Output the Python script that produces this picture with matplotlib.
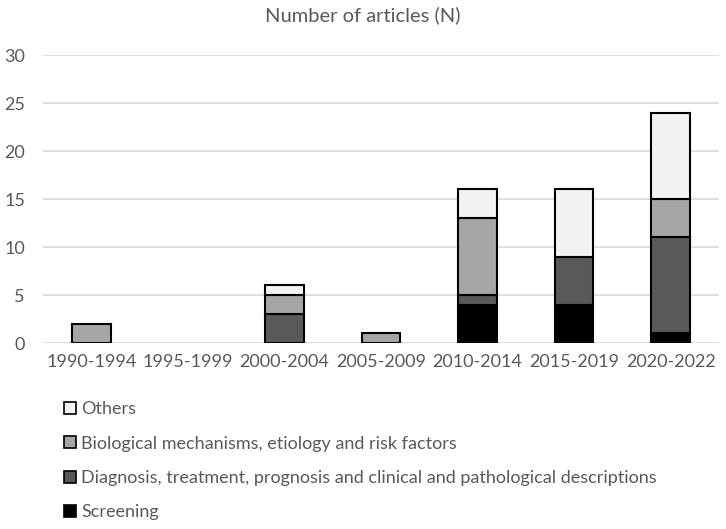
import matplotlib.pyplot as plt
import numpy as np
from matplotlib.patches import Patch

plt.rcParams['font.family'] = ['Lato', 'DejaVu Sans']

periods = ['1990-1994', '1995-1999', '2000-2004', '2005-2009',
           '2010-2014', '2015-2019', '2020-2022']
screening = [0, 0, 0, 0, 4, 4, 1]
diagnosis = [0, 0, 3, 0, 1, 5, 10]
biological = [2, 0, 2, 1, 8, 0, 4]
others = [0, 0, 1, 0, 3, 7, 9]

labels = ['Screening',
          'Diagnosis, treatment, prognosis and clinical and pathological descriptions',
          'Biological mechanisms, etiology and risk factors',
          'Others']
colors = ['#000000', '#595959', '#a6a6a6', '#f2f2f2']
series = [screening, diagnosis, biological, others]

txt = '#595959'

fig = plt.figure(figsize=(7.26, 5.29), dpi=100)
ax = fig.add_axes([43 / 726, 1 - 343 / 529, 676 / 726, 288 / 529])

x = np.arange(len(periods))
bottom = np.zeros(len(periods))
for vals, c in zip(series, colors):
    vals = np.array(vals, dtype=float)
    m = vals > 0  # skip empty segments so no flat outlines appear
    ax.bar(x[m], vals[m], bottom=bottom[m], width=0.4, color=c, edgecolor='#000000',
           linewidth=1.5, zorder=3)
    bottom += vals

ax.set_xlim(-0.5, len(periods) - 0.5)
ax.set_ylim(0, 30)
ax.set_yticks(np.arange(0, 31, 5))
ax.set_xticks(x)
ax.set_xticklabels(periods)
ax.tick_params(axis='both', length=0, labelsize=13, colors=txt)
ax.tick_params(axis='x', pad=8)
ax.tick_params(axis='y', pad=13)
ax.grid(axis='y', color='#d9d9d9', linewidth=1.2, zorder=0)
for s in ax.spines.values():
    s.set_visible(False)

fig.text(363 / 726, 1 - 15 / 529, 'Number of articles (N)', ha='center', va='center',
         fontsize=14.5, color=txt)

handles = [Patch(facecolor=c, edgecolor='#000000', linewidth=1.2) for c in colors]
leg = fig.legend(handles[::-1], labels[::-1], loc='upper left',
                 bbox_to_anchor=(57 / 726, 1 - 394 / 529), frameon=False,
                 fontsize=13, labelspacing=1.02, handlelength=0.65, handleheight=0.65,
                 handletextpad=0.3, borderaxespad=0)
for t in leg.get_texts():
    t.set_color(txt)

fig.savefig('out.png', dpi=100)
